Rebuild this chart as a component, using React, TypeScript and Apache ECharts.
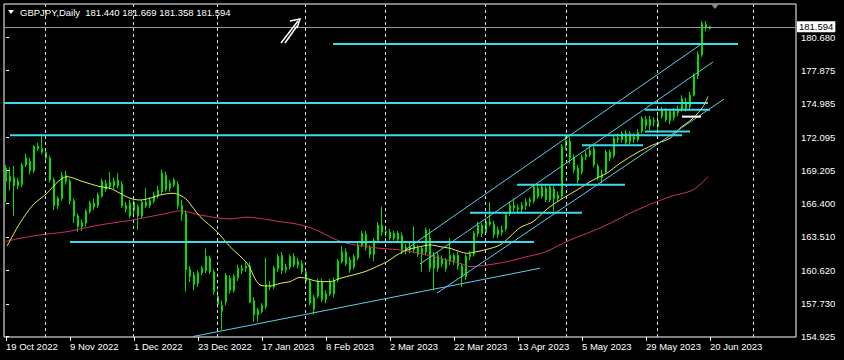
import React, { useEffect, useRef } from "react";
import * as echarts from "echarts";

// ---------- data ----------
const SLOTS = 198; // visible bar slots (incl. empty future space)
const xTickIdx = [0, 16, 32, 48, 64, 80, 96, 112, 128, 144, 160, 176];
const xTickLabels = [
  "19 Oct 2022", "9 Nov 2022", "1 Dec 2022", "23 Dec 2022", "17 Jan 2023", "8 Feb 2023",
  "2 Mar 2023", "22 Mar 2023", "13 Apr 2023", "5 May 2023", "29 May 2023", "20 Jun 2023",
];
const monthGridIdx = [9.75, 31.75, 52.75, 74.75, 94.75, 119.75, 140, 162.75, 186.75];
const yTicks = [154.925, 157.73, 160.62, 163.51, 166.4, 169.205, 172.095, 174.985, 177.875, 180.68];
const Y_MIN = 154.88;
const Y_MAX = 183.56;
const lastClose = 181.594;
const titleText = "GBPJPY,Daily  181.440 181.669 181.358 181.594";

// [open, close, low, high]
const ohlc: number[][] = [
  [169.4,168.3,166.5,169.7],[168.3,168.7,167.5,169.5],[168.6,167.9,165.3,169.6],[167.9,168.3,167.6,168.6],
  [168.0,169.7,167.8,169.9],[169.7,170.3,169.5,170.7],[170.0,169.2,168.9,170.3],[169.2,171.3,169.0,171.4],
  [171.3,171.1,170.9,171.6],[171.1,170.8,170.6,172.3],[170.8,170.3,170.0,171.0],[170.3,168.4,168.2,170.5],
  [168.4,166.2,165.8,168.6],[166.2,166.8,165.9,167.0],[166.8,168.8,166.6,169.1],[168.8,168.3,168.0,169.2],
  [168.3,166.6,166.3,168.5],[166.6,165.3,164.7,166.8],[165.3,164.4,163.95,165.5],[164.4,164.7,164.0,165.0],
  [164.7,165.7,164.4,165.9],[165.7,166.4,165.5,166.6],[166.4,166.1,165.8,166.8],[166.2,167.1,166.0,167.3],
  [167.0,168.3,166.9,168.5],[168.1,167.6,167.4,168.4],[167.8,168.2,167.6,169.1],[168.3,167.9,167.6,168.6],
  [167.9,168.4,167.7,169.0],[168.0,166.2,166.0,168.3],[166.2,165.9,165.6,166.5],[166.4,165.3,165.1,166.7],
  [165.8,166.5,165.3,166.7],[166.1,165.3,164.1,166.3],[165.3,166.5,165.1,166.7],[166.5,166.2,166.0,167.7],
  [166.2,166.6,166.0,166.9],[166.6,167.1,166.4,167.4],[167.0,167.5,166.8,167.9],[167.4,169.0,167.2,169.3],
  [168.8,167.6,167.4,169.1],[167.7,168.1,167.4,168.4],[168.0,168.4,167.8,168.6],[168.0,166.2,165.9,168.3],
  [166.2,165.5,164.9,166.7],[165.5,160.7,158.8,165.8],[160.7,160.1,159.6,161.0],[160.2,159.4,158.9,160.5],
  [159.5,160.4,159.2,160.6],[160.4,160.8,160.2,161.0],[160.6,161.8,160.4,162.5],[161.7,160.5,160.3,161.9],
  [160.5,158.8,158.5,160.7],[158.4,157.7,157.4,158.9],[157.6,157.1,155.5,158.0],[157.9,160.2,157.6,160.4],
  [159.9,158.9,158.6,160.2],[158.9,160.1,158.7,160.3],[160.0,160.8,159.7,161.1],[160.8,160.6,160.3,161.1],
  [160.8,161.0,160.5,161.3],[161.0,157.9,157.8,161.3],[158.0,156.8,156.2,158.3],[156.8,157.2,156.2,157.4],
  [157.1,157.6,156.9,157.8],[157.5,159.4,157.3,161.7],[159.2,159.3,158.9,159.7],[159.2,160.8,159.0,161.0],
  [160.8,161.8,160.5,162.0],[161.9,160.6,160.3,162.2],[160.7,160.9,160.4,161.2],[160.9,161.8,160.7,162.0],
  [161.8,161.1,160.9,162.1],[161.1,161.4,160.8,161.7],[161.2,160.5,160.3,161.5],[160.5,159.7,159.4,160.8],
  [159.7,157.8,157.6,159.9],[157.3,158.3,156.8,158.5],[158.4,159.6,158.2,159.9],[159.6,158.1,157.9,159.9],
  [158.1,158.6,157.8,158.9],[158.6,159.6,158.4,159.9],[158.6,159.7,158.3,160.0],[159.8,161.4,159.6,161.6],
  [161.4,162.2,161.2,162.7],[162.2,161.2,161.0,162.5],[161.5,160.7,160.4,161.8],[160.9,161.8,160.7,162.0],
  [161.7,162.8,161.5,163.0],[162.8,163.8,162.6,164.0],[163.7,162.6,162.3,164.0],[162.6,162.0,161.7,162.8],
  [162.0,163.2,161.4,163.4],[163.2,164.5,163.0,164.8],[164.5,163.9,163.6,166.1],[163.9,163.95,163.5,164.4],
  [163.9,163.4,163.2,164.2],[163.4,163.8,163.2,164.0],[163.8,163.3,163.0,164.0],[163.6,162.3,162.0,163.9],
  [162.3,162.6,162.0,162.9],[162.6,162.4,162.1,163.0],[162.4,162.8,162.1,164.4],[162.5,162.0,161.8,162.8],
  [162.0,162.5,160.5,162.7],[162.2,164.1,161.9,164.3],[163.4,160.8,160.5,164.2],[160.8,161.9,158.9,162.2],
  [161.9,160.8,160.5,162.2],[161.2,161.6,160.9,161.9],[161.5,160.8,160.5,161.7],[161.4,161.9,161.1,163.4],
  [161.9,161.4,161.1,162.1],[161.9,161.0,160.7,162.2],[161.0,160.1,159.2,161.2],[160.1,161.8,159.8,162.0],
  [161.8,162.0,161.5,162.3],[162.0,163.8,161.8,164.0],[163.8,164.5,163.5,164.8],[164.5,163.8,163.5,164.7],
  [163.9,164.8,163.7,165.1],[164.8,164.6,164.4,166.5],[164.6,163.7,163.4,164.9],[163.7,164.1,163.4,164.4],
  [164.1,163.9,163.6,164.5],[164.2,165.4,164.0,165.6],[165.5,166.2,165.3,166.5],[166.2,166.0,165.7,166.8],
  [166.0,165.9,165.6,166.3],[165.9,166.2,165.5,166.5],[166.2,166.5,165.8,166.8],[166.5,166.7,166.1,166.9],
  [166.6,167.8,166.4,168.0],[167.7,167.0,166.8,168.0],[167.0,167.8,166.8,168.1],[167.7,166.7,166.5,168.0],
  [166.7,167.8,166.5,168.0],[167.6,166.8,165.7,167.9],[166.8,167.1,166.5,167.4],[167.0,171.3,166.8,171.5],
  [171.3,171.8,171.0,172.3],[171.7,170.3,169.8,172.1],[170.3,169.3,169.0,170.6],[169.4,168.4,168.1,169.7],
  [169.1,170.4,168.9,170.6],[170.4,170.6,170.1,170.9],[170.6,170.9,170.4,171.3],[171.1,169.7,169.5,171.3],
  [169.6,168.6,168.4,169.8],[168.6,168.9,168.1,169.3],[169.1,170.8,168.9,171.0],[170.8,170.3,170.0,171.0],
  [170.5,172.0,170.3,172.2],[172.0,171.9,171.6,172.4],[171.9,172.4,171.6,172.6],[172.4,171.6,171.4,172.7],
  [171.7,172.4,171.5,172.6],[172.1,171.9,171.6,172.4],[171.9,172.5,171.7,172.8],[172.6,173.7,172.4,173.9],
  [173.6,173.1,172.8,173.9],[173.1,173.6,172.7,173.9],[173.5,173.4,173.0,173.8],[173.5,173.0,172.6,174.0],
  [173.9,174.4,173.7,174.7],[174.3,173.6,173.4,174.6],[173.5,174.3,173.2,174.5],[174.3,173.8,173.5,174.6],
  [174.2,174.5,173.9,174.8],[174.5,175.4,174.3,175.7],[175.1,174.6,174.3,175.5],[174.7,175.7,174.5,176.0],
  [175.7,177.4,175.6,177.6],[177.4,179.2,177.1,179.5],[179.2,181.9,179.0,182.1],[181.8,181.5,181.2,182.1],
  [181.44,181.594,181.358,181.669],
];

// moving averages: [bar index, price]
const maFast: number[][] = [
  [0.25,162.7],[3.5,164.7],[6.75,166.25],[10.25,167.26],[13,168.26],[15.25,168.69],[19.25,168.26],
  [23.5,167.83],[26,167.69],[28.5,167.26],[31,166.83],[33.5,166.68],[36,166.83],[38.5,167.11],
  [41.75,167.26],[43.5,167.1],[45.25,166.68],[48.5,165.25],[52.75,163.95],[56,162.66],[60.25,161.23],
  [63.5,159.36],[66,159.27],[68.5,159.5],[71,159.65],[73.5,160.02],[78.5,159.65],[81,159.65],
  [83.5,159.93],[86.75,160.22],[89.75,160.51],[91.75,160.8],[95.25,161.37],[97.75,161.94],
  [100.25,162.38],[103.5,162.66],[106,162.81],[108.5,162.66],[111,162.52],[113.5,162.23],
  [115.25,162.09],[117.75,162.23],[121,162.5],[123.5,162.81],[126,163.52],[128.5,164.3],
  [131.75,164.81],[135.25,165.9],[138.5,166.68],[142.75,167.54],[146.75,168.4],[150.25,169.0],
  [153.5,169.84],[157.75,170.75],[161.75,171.42],[166,172.0],[168.5,172.86],[171.75,173.72],
  [174.25,174.72],[175.5,175.59],
];
const maSlow: number[][] = [
  [-0.25,163.1],[3.5,163.38],[8.5,163.67],[15.25,163.95],[19.25,164.24],[23.5,164.53],[27.75,164.76],
  [31.75,164.96],[36,165.25],[40.25,165.53],[43.5,165.75],[48.5,165.39],[52.75,165.15],[56,165.05],
  [60.25,165.2],[66,164.96],[68.5,164.81],[71.75,164.67],[75.25,164.38],[78.5,163.95],[81.75,163.38],
  [85.25,162.95],[88.5,162.75],[93.5,162.52],[98.5,162.38],[103.5,162.09],[108.5,161.66],
  [113.5,161.23],[116,160.94],[120.25,161.08],[125.25,161.37],[130.25,161.8],[134.75,162.2],
  [141,163.23],[149.25,164.38],[157.75,165.82],[166,166.97],[171.75,167.54],[175.5,168.69],
];

// horizontal levels: price, from bar, to bar
const hLevel = [180.12, 175.04, 172.25, 163.06, 165.59, 168.0, 171.4, 172.57, 174.46];
const hFrom = [81.75, -0.5, 1, 16, 116, 127.75, 144, 159.75, 159.75];
const hTo = [183, 175.5, 169, 132, 144, 154.75, 159.25, 171, 176];
const whiteLevel = [173.86, 169, 173.75];

// trend lines: [fromBar, fromPrice, toBar, toPrice]
const trendLines: number[][] = [
  [46.75, 154.92, 133.5, 160.8],
  [99.75, 162.37, 173.5, 180.03],
  [103.5, 161.17, 176.75, 178.57],
  [107.75, 158.66, 179.5, 175.37],
];

const FONT = "'Liberation Sans', Arial, sans-serif";

export default function App() {
  const ref = useRef<HTMLDivElement>(null);
  useEffect(() => {
    document.body.style.margin = "0";
    document.body.style.background = "#000";
    if (!ref.current) return;
    const chart = echarts.init(ref.current, undefined, { renderer: "svg" });
    const categories = Array.from({ length: SLOTS }, (_, i) => String(i));
    const tickSet = new Set(xTickIdx);
    const labelMap: Record<number, string> = {};
    xTickIdx.forEach((i, k) => (labelMap[i] = xTickLabels[k]));

    const cyan = "#3ddbe9";
    const thin = "#5ccfe6";
    const series: any[] = [];

    series.push({
      type: "line", xAxisIndex: 1, yAxisIndex: 0, data: [], silent: true, z: 1,
      markLine: {
        silent: true, symbol: "none", animation: false,
        label: { show: false },
        lineStyle: { color: "#dcdcdc", type: [3, 3], width: 1 },
        data: monthGridIdx.map((x) => ({ xAxis: x })),
      },
    });
    series.push({
      type: "line", xAxisIndex: 1, yAxisIndex: 0, data: [], silent: true, z: 1,
      markLine: {
        silent: true, symbol: "none", animation: false,
        lineStyle: { color: "#9a9a9a", type: "solid", width: 1 },
        label: {
          show: true, position: "end", formatter: lastClose.toFixed(3), distance: 1,
          backgroundColor: "#fff", color: "#000", fontSize: 9.5, fontFamily: FONT, padding: [1, 2, 0, 2],
        },
        data: [{ yAxis: lastClose }],
      },
    });
    series.push({
      type: "candlestick", xAxisIndex: 0, yAxisIndex: 0, data: ohlc, barWidth: 2, z: 2,
      itemStyle: {
        color: "#6cff5c", color0: "#6cff5c", borderColor: "#00e000", borderColor0: "#00e000", borderWidth: 1,
      },
    });
    series.push({
      type: "line", xAxisIndex: 1, data: maSlow, smooth: 0.3, symbol: "none", z: 3,
      lineStyle: { color: "#d0306f", width: 1 },
    });
    series.push({
      type: "line", xAxisIndex: 1, data: maFast, smooth: 0.3, symbol: "none", z: 3,
      lineStyle: { color: "#ecec50", width: 1 },
    });
    trendLines.forEach((t) =>
      series.push({
        type: "line", xAxisIndex: 1, symbol: "none", z: 4, silent: true,
        data: [[t[0], t[1]], [t[2], t[3]]],
        lineStyle: { color: thin, width: 1 },
      })
    );
    hLevel.forEach((lv, k) =>
      series.push({
        type: "line", xAxisIndex: 1, symbol: "none", z: 5, silent: true,
        data: [[hFrom[k], lv], [hTo[k], lv]],
        lineStyle: { color: cyan, width: 2 },
      })
    );
    series.push({
      type: "line", xAxisIndex: 1, symbol: "none", z: 5, silent: true,
      data: [[whiteLevel[1], whiteLevel[0]], [whiteLevel[2], whiteLevel[0]]],
      lineStyle: { color: "#ffffff", width: 2 },
    });

    chart.setOption({
      animation: false,
      backgroundColor: "#000",
      grid: {
        left: 4, right: 48, top: 4, bottom: 23, show: true,
        borderColor: "#ffffff", borderWidth: 1, backgroundColor: "#000",
      },
      xAxis: [
        {
          type: "category", data: categories, boundaryGap: true,
          axisLine: { show: false },
          axisTick: {
            show: true, alignWithLabel: true, length: 4,
            interval: (i: number) => tickSet.has(i),
            lineStyle: { color: "#fff" },
          },
          axisLabel: {
            show: true, interval: (i: number) => tickSet.has(i),
            formatter: (_v: string, i: number) => labelMap[i] ?? "",
            color: "#fff", fontSize: 9.5, fontFamily: FONT, align: "left", margin: 4,
          },
          splitLine: { show: false },
        },
        { type: "value", min: -0.5, max: SLOTS - 0.5, show: false },
      ],
      yAxis: {
        type: "value", position: "right", min: Y_MIN, max: Y_MAX,
        axisLine: { show: false },
        axisTick: { show: true, customValues: yTicks, length: 3, lineStyle: { color: "#fff" } },
        axisLabel: {
          customValues: yTicks, formatter: (v: number) => v.toFixed(3),
          color: "#fff", fontSize: 9.5, fontFamily: FONT, margin: 5,
        },
        splitLine: { show: false },
      },
      graphic: [
        { type: "polygon", shape: { points: [[8, 10], [14, 10], [11, 14]] }, style: { fill: "#fff" }, z: 10 },
        {
          type: "text", left: 20, top: 7,
          style: { text: titleText, fill: "#fff", font: `9.5px ${FONT}` }, z: 10,
        },
        { type: "polygon", shape: { points: [[711, 4], [719, 4], [715, 9]] }, style: { fill: "#8a8a8a" }, z: 10 },
        { type: "polyline", shape: { points: [[281, 43], [298, 21]] }, style: { stroke: "#fff", lineWidth: 1.5 }, z: 10 },
        { type: "polyline", shape: { points: [[285, 43], [297, 26]] }, style: { stroke: "#fff", lineWidth: 1.5 }, z: 10 },
        { type: "polyline", shape: { points: [[290, 21], [300, 19], [297, 28]] }, style: { stroke: "#fff", lineWidth: 1.5, fill: null }, z: 10 },
      ],
      series,
    });
    return () => chart.dispose();
  }, []);
  return <div ref={ref} style={{ width: 844, height: 360, background: "#000" }} />;
}
